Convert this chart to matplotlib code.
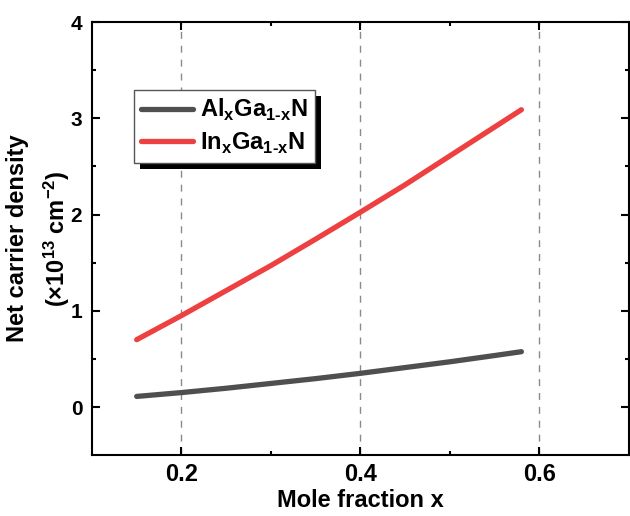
import matplotlib
matplotlib.use("Agg")
import matplotlib.pyplot as plt
from matplotlib.patches import Rectangle

plt.rcParams['font.family'] = ['Liberation Sans', 'DejaVu Sans']
plt.rcParams['font.weight'] = 'bold'
plt.rcParams['mathtext.fontset'] = 'custom'
plt.rcParams['mathtext.rm'] = 'Liberation Sans'
plt.rcParams['mathtext.bf'] = 'Liberation Sans:bold'

# mole fraction x and net carrier density (1e13 cm^-2)
x = [0.15, 0.20, 0.25, 0.30, 0.35, 0.40, 0.45, 0.50, 0.55, 0.58]
al_gan = [0.11, 0.15, 0.195, 0.245, 0.295, 0.35, 0.41, 0.47, 0.535, 0.575]
in_gan = [0.70, 0.95, 1.21, 1.47, 1.745, 2.025, 2.31, 2.61, 2.91, 3.09]

labels = [r'Al$_\mathbf{x}$Ga$_\mathbf{1\text{-}x}$N', r'In$_\mathbf{x}$Ga$_\mathbf{1\text{-}x}$N']
colors = ['#4f4f4f', '#ee4040']

fig = plt.figure(figsize=(6.3, 5.16), dpi=100)
ax = fig.add_axes([0.146, 0.118, 0.852, 0.839])

ax.plot(x, al_gan, color=colors[0], lw=3.8, solid_capstyle='round', label=labels[0])
ax.plot(x, in_gan, color=colors[1], lw=3.8, solid_capstyle='round', label=labels[1])

ax.set_xlim(0.1, 0.7)
ax.set_ylim(-0.5, 4)
ax.set_xticks([0.2, 0.4, 0.6])
ax.set_xticks([0.3, 0.5], minor=True)
ax.set_yticks([0, 1, 2, 3, 4])
ax.set_yticks([0.5, 1.5, 2.5, 3.5], minor=True)
ax.set_yticklabels(['0', '1', '2', '3', '4'])
ax.set_xticklabels(['0.2', '0.4', '0.6'])

ax.grid(axis='x', which='major', ls=(0, (5, 5)), color='#8a8a8a', lw=1.0)
ax.tick_params(which='both', direction='in', top=True, right=True, width=1.5)
ax.tick_params(which='major', length=6)
ax.tick_params(which='minor', length=3)
ax.tick_params(axis='x', labelsize=17, pad=6)
ax.tick_params(axis='y', labelsize=15, pad=7)
for s in ax.spines.values():
    s.set_linewidth(1.5)

ax.set_xlabel('Mole fraction x', fontsize=17, fontweight='bold', labelpad=2)
ax.set_ylabel('Net carrier density\n' + r'($\mathrm{\times10^{13}}$ $\mathbf{cm^{-2}}$)',
              fontsize=17, fontweight='bold', labelpad=-1, linespacing=1.55)

leg = ax.legend(loc='upper left', bbox_to_anchor=(0.078, 0.843), borderaxespad=0,
                fancybox=False, framealpha=1, edgecolor='#555555', fontsize=17,
                handlelength=2.2, handletextpad=0.3, borderpad=0.3, labelspacing=0.3)
leg.get_frame().set_linewidth(1.0)
leg.set_zorder(6)

fig.canvas.draw()
bb = leg.get_window_extent().transformed(ax.transAxes.inverted())
dx = 6 / (ax.bbox.width)
dy = 6 / (ax.bbox.height)
ax.add_patch(Rectangle((bb.x0 + dx, bb.y0 - dy), bb.width, bb.height, transform=ax.transAxes,
                       facecolor='black', edgecolor='none', zorder=5, clip_on=False))

fig.savefig('out.png', dpi=100)
